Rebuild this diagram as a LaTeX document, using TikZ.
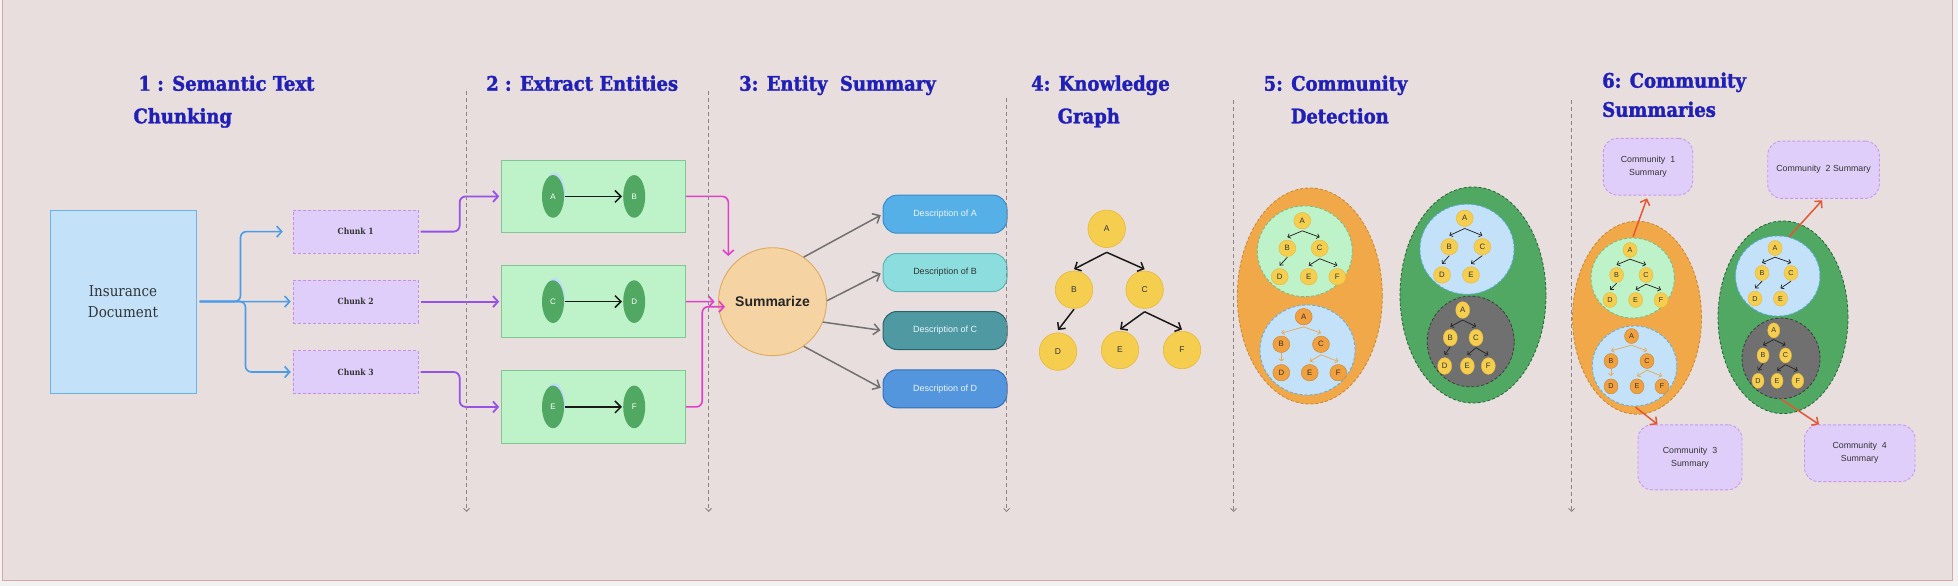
\documentclass[tikz,border=0pt]{standalone}
\usepackage{fontspec}
\setsansfont{Liberation Sans}
\newfontfamily\titlefont{DejaVu Serif Condensed}[BoldFont={DejaVu Serif Condensed Bold}]
\newfontfamily\headfont{DejaVu Serif Condensed Bold}[FakeBold=1.6]
\usetikzlibrary{arrows.meta,shapes.geometric,calc}

\definecolor{outergray}{RGB}{242,242,242}
\definecolor{bgc}{RGB}{233,222,222}
\definecolor{framec}{RGB}{214,166,166}
\definecolor{titleblue}{RGB}{32,32,184}
\definecolor{sepgray}{RGB}{140,132,132}
\definecolor{insfill}{RGB}{195,226,250}
\definecolor{insdraw}{RGB}{104,178,240}
\definecolor{txtdark}{RGB}{51,51,51}
\definecolor{chunkfill}{RGB}{224,206,250}
\definecolor{chunkdraw}{RGB}{200,140,240}
\definecolor{gboxfill}{RGB}{190,242,200}
\definecolor{gboxdraw}{RGB}{130,198,148}
\definecolor{gell}{RGB}{80,168,98}
\definecolor{hlblue}{RGB}{190,220,250}
\definecolor{arrblue}{RGB}{74,155,232}
\definecolor{arrpurple}{RGB}{150,82,232}
\definecolor{arrpink}{RGB}{224,64,200}
\definecolor{summfill}{RGB}{245,211,163}
\definecolor{summdraw}{RGB}{222,170,92}
\definecolor{arrgray}{RGB}{112,112,112}
\definecolor{dAfill}{RGB}{86,176,232}
\definecolor{dAdraw}{RGB}{58,138,204}
\definecolor{dBfill}{RGB}{140,222,222}
\definecolor{dBdraw}{RGB}{90,180,184}
\definecolor{dCfill}{RGB}{79,154,162}
\definecolor{dCdraw}{RGB}{40,100,110}
\definecolor{dDfill}{RGB}{83,150,222}
\definecolor{dDdraw}{RGB}{50,110,184}
\definecolor{dtxt}{RGB}{236,244,255}
\definecolor{yel}{RGB}{245,206,80}
\definecolor{yeldraw}{RGB}{232,184,56}
\definecolor{orn}{RGB}{240,168,72}
\definecolor{ornnode}{RGB}{240,160,62}
\definecolor{orndraw}{RGB}{200,134,48}
\definecolor{ornedge}{RGB}{232,170,84}
\definecolor{gdark}{RGB}{40,100,56}
\definecolor{lgdraw}{RGB}{110,190,140}
\definecolor{lbdraw}{RGB}{90,172,236}
\definecolor{gryfill}{RGB}{112,112,112}
\definecolor{grydraw}{RGB}{60,60,60}
\definecolor{arrred}{RGB}{228,86,52}
\definecolor{csfill}{RGB}{224,206,250}
\definecolor{csdraw}{RGB}{200,150,240}

\tikzset{
  title/.style={font=\headfont\fontsize{20}{24}\selectfont, text=titleblue, inner sep=0pt, anchor=base west},
  sepline/.style={draw=sepgray, line width=0.9pt, dash pattern=on 4pt off 3pt, -{Straight Barb[length=3pt,width=6pt]}},
  insbox/.style={rectangle, draw=insdraw, fill=insfill, line width=1pt, minimum width=146pt, minimum height=183pt, font=\titlefont\fontsize{15}{21}\selectfont, text=txtdark, align=center},
  chunkbox/.style={rectangle, draw=chunkdraw, fill=chunkfill, line width=0.9pt, dash pattern=on 3pt off 2pt, minimum width=125pt, minimum height=43pt, font=\titlefont\bfseries\fontsize{8.5}{10}\selectfont, text=txtdark},
  gbox/.style={rectangle, draw=gboxdraw, fill=gboxfill, line width=1pt, minimum width=184pt, minimum height=72.7pt},
  gent/.style={ellipse, fill=gell, inner sep=0pt, minimum width=22pt, minimum height=42.6pt, font=\sffamily\fontsize{8}{8}\selectfont, text=white},
  entarr/.style={draw=black!90, line width=1.5pt, shorten <=1pt, shorten >=1pt, -{Straight Barb[length=6pt,width=12pt]}},
  bluearr/.style={draw=arrblue, line width=1.6pt, rounded corners=6pt, -{Straight Barb[length=5pt,width=11pt]}},
  purparr/.style={draw=arrpurple, line width=1.8pt, rounded corners=6pt, -{Straight Barb[length=5pt,width=11pt]}},
  pinkarr/.style={draw=arrpink, line width=1.6pt, rounded corners=6pt, -{Straight Barb[length=5pt,width=11pt]}},
  grayarr/.style={draw=arrgray, line width=1.5pt, shorten >=2pt, -{Straight Barb[length=6pt,width=11pt]}},
  redarr/.style={draw=arrred, line width=1.5pt, -{Straight Barb[length=5pt,width=10pt]}},
  summ/.style={circle, fill=summfill, draw=summdraw, line width=0.9pt, minimum size=108pt, inner sep=0pt, font=\sffamily\bfseries\fontsize{14}{14}\selectfont, text=black!85},
  desc/.style={rectangle, rounded corners=14pt, line width=1pt, minimum width=124pt, minimum height=38pt, font=\sffamily\fontsize{9}{9}\selectfont, text=dtxt},
  kgnode/.style={circle, minimum size=37.5pt, inner sep=0pt, fill=yel, draw=yeldraw, line width=0.6pt, font=\sffamily\fontsize{8.5}{8.5}\selectfont, text=txtdark},
  kgarr/.style={draw=black!90, line width=1.5pt, -{Straight Barb[length=5pt,width=10pt]}},
  region/.style={ellipse, inner sep=0pt, line width=0.8pt, dash pattern=on 3pt off 2pt},
  ynode/.style={ellipse, inner sep=0pt, fill=yel, draw=yeldraw, line width=0.4pt, font=\sffamily\fontsize{7.8}{7.8}\selectfont, text=txtdark},
  onode/.style={ynode, fill=ornnode, draw=orndraw},
  sfive/.style={minimum width=17pt, minimum height=16.5pt},
  sfivegray/.style={minimum width=14pt, minimum height=16.7pt},
  ssix/.style={minimum width=14pt, minimum height=15pt, font=\sffamily\fontsize{7.2}{7.2}\selectfont},
  ssixgray/.style={minimum width=12pt, minimum height=15pt, font=\sffamily\fontsize{7.2}{7.2}\selectfont},
  mtarr/.style={draw=black!85, line width=0.75pt, -{Straight Barb[length=2.5pt,width=5pt]}},
  mtoarr/.style={mtarr, draw=ornedge},
  cbox/.style={rectangle, rounded corners=14pt, draw=csdraw, fill=csfill, line width=0.9pt, dash pattern=on 3pt off 2pt, font=\sffamily\fontsize{8.8}{13}\selectfont, text=txtdark, align=center, inner sep=0pt}
}

\newcommand\myfork[6]{%
  \draw[#1] ([yshift=-#5]#2.south) -- ([yshift=#6]#3.north);
  \draw[#1] ([yshift=-#5]#2.south) -- ([yshift=#6]#4.north);}
\newcommand\myedge[4]{\draw[#1] ([yshift=-0.5pt]#2.south) -- ([yshift=#4]#3.north);}

\begin{document}
\begin{tikzpicture}[x=1pt,y=-1pt]
\useasboundingbox (0,0) rectangle (1958,586);
\fill[outergray] (0,0) rectangle (1958,586);
\fill[bgc] (2.5,0) rectangle (1952.3,580.7);
\draw[framec, line width=1.2pt] (2.5,0) -- (2.5,580.7) -- (1952.3,580.7) -- (1952.3,0);

% ---------- titles
\node[title] (h1a) at (138.3,90.7) {1 : Semantic Text};
\node[title] (h1b) at (133.3,123.3) {Chunking};
\node[title] (h2)  at (486,90.7) {2 : Extract Entities};
\node[title] (h3)  at (739,90.7) {3: Entity\ \ Summary};
\node[title] (h4a) at (1031,90.7) {4: Knowledge};
\node[title] (h4b) at (1057.5,123.3) {Graph};
\node[title] (h5a) at (1263.5,90.7) {5: Community};
\node[title] (h5b) at (1290.6,123.3) {Detection};
\node[title] (h6a) at (1602,87.7) {6: Community};
\node[title] (h6b) at (1602,116.8) {Summaries};

% ---------- section 1
\node[insbox] (ins) at (123,301.5) {Insurance\\Document};
\node[chunkbox] (chunk1) at (355.7,231.6) {Chunk 1};
\node[chunkbox] (chunk2) at (355.7,301.6) {Chunk 2};
\node[chunkbox] (chunk3) at (355.7,372) {Chunk 3};
\draw[bluearr, shorten <=3pt, shorten >=2pt] (ins.east) -- (chunk2.west);
\draw[bluearr, shorten <=3pt, shorten >=10pt] (ins.east) -- ++(44,0) |- (chunk1.west);
\draw[bluearr, shorten <=3pt, shorten >=2pt] (ins.east) -- ++(49,0) |- (chunk3.west);

% ---------- section 2
\node[gbox] (gbox1) at (593.7,196.4) {};
\node[gbox] (gbox2) at (593.7,301.6) {};
\node[gbox] (gbox3) at (593.7,406.9) {};
\fill[hlblue] (554.5,193.3) ellipse [x radius=10.5, y radius=20.5];
\fill[hlblue] (554.5,298.5) ellipse [x radius=10.5, y radius=20.5];
\fill[hlblue] (554.5,403.8) ellipse [x radius=10.5, y radius=20.5];
\node[gent] (eA) at (553,196.4) {A};
\node[gent] (eB) at (634.2,196.4) {B};
\node[gent] (eC) at (553,301.6) {C};
\node[gent] (eD) at (634.2,301.6) {D};
\node[gent] (eE) at (553,406.9) {E};
\node[gent] (eF) at (634.2,406.9) {F};
\draw[entarr] (eA.east) -- (eB.west);
\draw[entarr] (eC.east) -- (eD.west);
\draw[entarr] (eE.east) -- (eF.west);
\draw[purparr, shorten <=2pt, shorten >=2pt] (chunk1.east) -- ++(41,0) |- (gbox1.west);
\draw[purparr, shorten <=2pt, shorten >=2pt] (chunk2.east) -- (gbox2.west);
\draw[purparr, shorten <=2pt, shorten >=2pt] (chunk3.east) -- ++(41,0) |- (gbox3.west);

% ---------- section 3
\node[summ] (summ) at (772.5,301.7) {Summarize};
\coordinate (p1) at (728.3,256);
\coordinate (p3) at (725,306.7);
\draw[pinkarr] (gbox1.east) -| (p1);
\draw[pinkarr, shorten >=3.5pt] (gbox2.east) -- (summ.west);
\draw[pinkarr] (gbox3.east) -- ++(16,0) |- (p3);
\node[desc, fill=dAfill, draw=dAdraw] (descA) at (945,214.2) {Description of A};
\node[desc, fill=dBfill, draw=dBdraw, text=txtdark] (descB) at (945,272.5) {Description of B};
\node[desc, fill=dCfill, draw=dCdraw] (descC) at (945,330.5) {Description of C};
\node[desc, fill=dDfill, draw=dDdraw] (descD) at (945,388.8) {Description of D};
\draw[grayarr] (summ.55) -- (descA.west);
\draw[grayarr] (summ.1) -- (descB.west);
\draw[grayarr] (summ.-22) -- (descC.west);
\draw[grayarr] (summ.-55) -- (descD.west);

% ---------- section 4
\node[kgnode] (kA) at (1106.7,228.8) {A};
\node[kgnode] (kB) at (1074,289.7) {B};
\node[kgnode] (kC) at (1144.6,289.7) {C};
\node[kgnode] (kD) at (1058,351.6) {D};
\node[kgnode] (kE) at (1120,350) {E};
\node[kgnode] (kF) at (1182,350) {F};
\myfork{kgarr}{kA}{kB}{kC}{4.5pt}{1.5pt}
\myedge{kgarr}{kB}{kD}{2.5pt}
\myfork{kgarr}{kC}{kE}{kF}{3pt}{1.5pt}

% ---------- section 5
\node[region, fill=orn, draw=orndraw, minimum width=145pt, minimum height=216pt] (o5) at (1309.8,296) {};
\node[region, fill=gboxfill, draw=lgdraw, minimum width=95pt, minimum height=90.7pt] (g5c) at (1304.8,251.3) {};
\node[region, fill=insfill, draw=lbdraw, minimum width=95pt, minimum height=90pt] (b5c) at (1307.5,350) {};
\node[region, fill=gell, draw=gdark, minimum width=146pt, minimum height=216pt] (G5) at (1473,295) {};
\node[region, fill=insfill, draw=lbdraw, minimum width=94pt, minimum height=90pt] (b5g) at (1467,249.2) {};
\node[region, fill=gryfill, draw=grydraw, minimum width=87pt, minimum height=90.7pt] (gray5) at (1470.7,341.5) {};

\node[ynode, sfive] (t1A) at (1302.3,220.7) {A};
\node[ynode, sfive] (t1B) at (1287.3,248.3) {B};
\node[ynode, sfive] (t1C) at (1319.7,248.3) {C};
\node[ynode, sfive] (t1D) at (1279.7,276.7) {D};
\node[ynode, sfive] (t1E) at (1308.7,276.7) {E};
\node[ynode, sfive] (t1F) at (1337.3,276.7) {F};
\myfork{mtarr}{t1A}{t1B}{t1C}{1.7pt}{2.7pt}
\myedge{mtarr}{t1B}{t1D}{2.7pt}
\myfork{mtarr}{t1C}{t1E}{t1F}{2pt}{2.7pt}

\node[onode, sfive] (t2A) at (1303.7,316.7) {A};
\node[onode, sfive] (t2B) at (1281.3,344.3) {B};
\node[onode, sfive] (t2C) at (1321,344.3) {C};
\node[onode, sfive] (t2D) at (1281.3,372.7) {D};
\node[onode, sfive] (t2E) at (1309.7,372.7) {E};
\node[onode, sfive] (t2F) at (1338.3,372.7) {F};
\myfork{mtoarr}{t2A}{t2B}{t2C}{1.7pt}{2.7pt}
\myedge{mtoarr}{t2B}{t2D}{2.7pt}
\myfork{mtoarr}{t2C}{t2E}{t2F}{2pt}{2.7pt}

\node[ynode, sfive] (t3A) at (1464.7,218.3) {A};
\node[ynode, sfive] (t3B) at (1449.3,246.7) {B};
\node[ynode, sfive] (t3C) at (1482.3,246.7) {C};
\node[ynode, sfive] (t3D) at (1442,275) {D};
\node[ynode, sfive] (t3E) at (1471,275) {E};
\myfork{mtarr}{t3A}{t3B}{t3C}{1.7pt}{2.7pt}
\myedge{mtarr}{t3B}{t3D}{2.7pt}
\myedge{mtarr}{t3C}{t3E}{2.7pt}

\node[ynode, sfivegray] (t4A) at (1462.7,310) {A};
\node[ynode, sfivegray] (t4B) at (1450.3,337.7) {B};
\node[ynode, sfivegray] (t4C) at (1476,337.7) {C};
\node[ynode, sfivegray] (t4D) at (1444.7,366) {D};
\node[ynode, sfivegray] (t4E) at (1467.3,366) {E};
\node[ynode, sfivegray] (t4F) at (1488.3,366) {F};
\myfork{mtarr}{t4A}{t4B}{t4C}{1.5pt}{2.5pt}
\myedge{mtarr}{t4B}{t4D}{2.5pt}
\myfork{mtarr}{t4C}{t4E}{t4F}{1.5pt}{2.5pt}

% ---------- section 6
\node[region, fill=orn, draw=orndraw, minimum width=129pt, minimum height=193pt] (o6) at (1637,317.7) {};
\node[region, fill=gboxfill, draw=lgdraw, minimum width=83.4pt, minimum height=80pt] (g6c) at (1632.7,278) {};
\node[region, fill=insfill, draw=lbdraw, minimum width=84.6pt, minimum height=80pt] (b6c) at (1634.5,366) {};
\node[region, fill=gell, draw=gdark, minimum width=130pt, minimum height=192.6pt] (G6) at (1783,317.3) {};
\node[region, fill=insfill, draw=lbdraw, minimum width=84.4pt, minimum height=80pt] (b6g) at (1777.7,276) {};
\node[region, fill=gryfill, draw=grydraw, minimum width=78pt, minimum height=80.7pt] (gray6) at (1781,358.4) {};

\node[ynode, ssix] (t5A) at (1630,250) {A};
\node[ynode, ssix] (t5B) at (1616.6,275) {B};
\node[ynode, ssix] (t5C) at (1646,275) {C};
\node[ynode, ssix] (t5D) at (1610,300) {D};
\node[ynode, ssix] (t5E) at (1635.6,300) {E};
\node[ynode, ssix] (t5F) at (1661,300) {F};
\myfork{mtarr}{t5A}{t5B}{t5C}{1.5pt}{2.5pt}
\myedge{mtarr}{t5B}{t5D}{2.5pt}
\myfork{mtarr}{t5C}{t5E}{t5F}{1.5pt}{2.5pt}

\node[onode, ssix] (t6A) at (1631.5,336) {A};
\node[onode, ssix] (t6B) at (1611,361) {B};
\node[onode, ssix] (t6C) at (1647,361) {C};
\node[onode, ssix] (t6D) at (1611,386.4) {D};
\node[onode, ssix] (t6E) at (1637,386.4) {E};
\node[onode, ssix] (t6F) at (1662,386.4) {F};
\myfork{mtoarr}{t6A}{t6B}{t6C}{1.5pt}{2.5pt}
\myedge{mtoarr}{t6B}{t6D}{2.5pt}
\myfork{mtoarr}{t6C}{t6E}{t6F}{1.5pt}{2.5pt}

\node[ynode, ssix] (t7A) at (1775,248) {A};
\node[ynode, ssix] (t7B) at (1762,273) {B};
\node[ynode, ssix] (t7C) at (1791,273) {C};
\node[ynode, ssix] (t7D) at (1755,298.6) {D};
\node[ynode, ssix] (t7E) at (1780.5,298.6) {E};
\myfork{mtarr}{t7A}{t7B}{t7C}{1.5pt}{2.5pt}
\myedge{mtarr}{t7B}{t7D}{2.5pt}
\myedge{mtarr}{t7C}{t7E}{2.5pt}

\node[ynode, ssixgray] (t8A) at (1773.7,330.4) {A};
\node[ynode, ssixgray] (t8B) at (1763,355.4) {B};
\node[ynode, ssixgray] (t8C) at (1785.5,355.4) {C};
\node[ynode, ssixgray] (t8D) at (1758,380.8) {D};
\node[ynode, ssixgray] (t8E) at (1777,380.8) {E};
\node[ynode, ssixgray] (t8F) at (1797.7,380.8) {F};
\myfork{mtarr}{t8A}{t8B}{t8C}{1.5pt}{2.5pt}
\myedge{mtarr}{t8B}{t8D}{2.5pt}
\myfork{mtarr}{t8C}{t8E}{t8F}{1.5pt}{2.5pt}

\node[cbox, minimum width=89.4pt, minimum height=56.7pt] (cs1) at (1648,166.7) {Community\ \ 1\\Summary};
\node[cbox, minimum width=111.6pt, minimum height=57.3pt] (cs2) at (1823.5,169.7) {Community\ \ 2 Summary};
\node[cbox, minimum width=104pt, minimum height=65pt] (cs3) at (1690,457.3) {Community\ \ 3\\Summary};
\node[cbox, minimum width=110.5pt, minimum height=56.8pt] (cs4) at (1859.7,453.2) {Community\ \ 4\\Summary};

\draw[redarr, shorten <=1pt, shorten >=3pt] (g6c.north) -- (cs1.south);
\draw[redarr, shorten >=2pt] (b6g.74) -- (cs2.south);
\draw[redarr, shorten <=1pt] (b6c.south) -- ([xshift=20pt]cs3.north west);
\draw[redarr] (gray6.south) -- ([xshift=15pt]cs4.north west);

% ---------- separators
\coordinate (s1t) at (466.5,91);   \coordinate (s1b) at (466.5,512);
\coordinate (s2t) at (708.5,91);   \coordinate (s2b) at (708.5,512);
\coordinate (s3t) at (1006.7,98);  \coordinate (s3b) at (1006.7,512);
\coordinate (s4t) at (1233.5,100); \coordinate (s4b) at (1233.5,512);
\coordinate (s5t) at (1571.5,100); \coordinate (s5b) at (1571.5,512);
\draw[sepline] (s1t) -- (s1b);
\draw[sepline] (s2t) -- (s2b);
\draw[sepline] (s3t) -- (s3b);
\draw[sepline] (s4t) -- (s4b);
\draw[sepline] (s5t) -- (s5b);
\end{tikzpicture}
\end{document}
